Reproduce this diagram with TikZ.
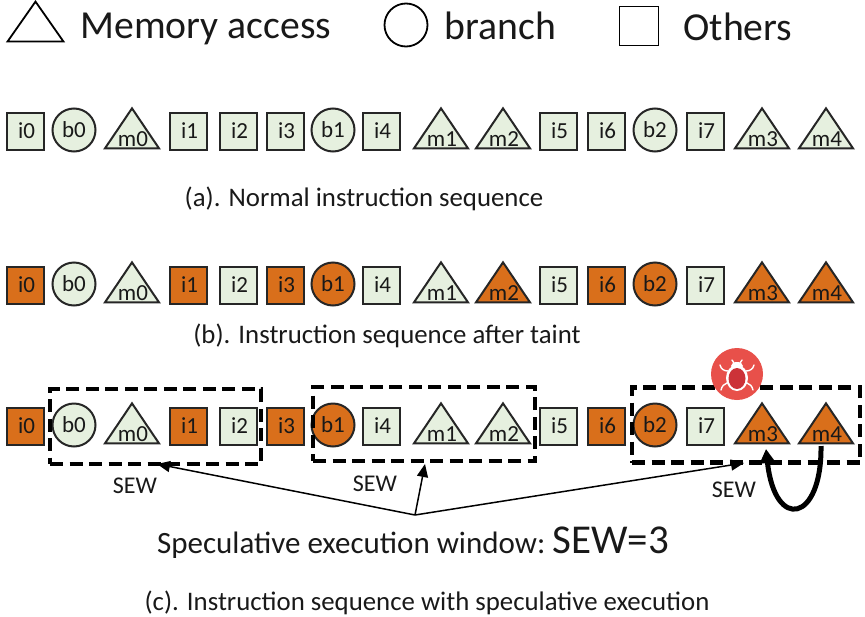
\documentclass[tikz,border=0pt]{standalone}
\usepackage{fontspec}
\setmainfont{Carlito}
\usetikzlibrary{shapes.geometric,arrows.meta}
\definecolor{lg}{HTML}{E6F0DF}
\definecolor{org}{HTML}{D96F1B}
\definecolor{bugred}{HTML}{E8504A}
\definecolor{bugdark}{HTML}{CC3238}
\tikzset{
  x=1pt,y=-1pt,
  every node/.style={font=\fontsize{23}{24}\selectfont,text=black!90},
  sq/.style={draw=black!85,line width=2pt,minimum width=37pt,minimum height=37pt,inner sep=0pt},
  ci/.style={draw=black!85,line width=2pt,circle,minimum size=43pt,inner sep=0pt},
  tr/.style={draw=black!85,line width=2pt,isosceles triangle,shape border rotate=90,isosceles triangle stretches,minimum width=54pt,minimum height=40pt,inner sep=0pt},
  nf/.style={fill=lg},
  of/.style={fill=org},
  win/.style={draw=black,line width=4.5pt,dash pattern=on 13pt off 6.5pt,inner sep=0pt},
  big/.style={font=\fontsize{39.7}{41}\selectfont},
  captxt/.style={font=\fontsize{26.8}{28}\selectfont},
  lab/.style={font=\fontsize{24}{26}\selectfont},
  arr/.style={-{Triangle[length=13pt,width=11pt]},line width=1.5pt,black},
}
\newcommand{\SQ}[5]{\node[sq,#5] (#1) at (#2,#3) {\hspace*{3pt}#4};}
\newcommand{\CI}[5]{\node[ci,#5] (#1) at (#2,#3-1) {#4};}
\newcommand{\TR}[5]{\node[tr,#5] (#1) at (#2,#3+3) {};\node (#1t) at (#2+1,#3+8) {#4};}
\begin{document}
\begin{tikzpicture}
\useasboundingbox (0,0) rectangle (865,616);
% legend
\node[draw=black,line width=1.8pt,isosceles triangle,shape border rotate=90,isosceles triangle stretches,minimum width=56pt,minimum height=40pt,inner sep=0pt] (lt) at (35.5,27) {};
\node[big,anchor=west] (lm) at (77,29) {Memory access};
\node[draw=black,line width=1.8pt,circle,minimum size=43pt,inner sep=0pt] (lc) at (406,25) {};
\node[big,anchor=west] (lb) at (441,26) {branch};
\node[draw=black,line width=1.8pt,minimum size=39pt,inner sep=0pt] (ls) at (639,26) {};
\node[big,anchor=west] (lo) at (680,27) {Others};
% row a
\def\ya{131}
\SQ{a0}{25}{\ya}{i0}{nf}\CI{a1}{74}{\ya}{b0}{nf}\TR{a2}{132}{\ya}{m0}{nf}
\SQ{a3}{188}{\ya}{i1}{nf}\SQ{a4}{238}{\ya}{i2}{nf}\SQ{a5}{285}{\ya}{i3}{nf}
\CI{a6}{333}{\ya}{b1}{nf}\SQ{a7}{381}{\ya}{i4}{nf}\TR{a8}{441}{\ya}{m1}{nf}
\TR{a9}{503}{\ya}{m2}{nf}\SQ{a10}{558}{\ya}{i5}{nf}\SQ{a11}{606}{\ya}{i6}{nf}
\CI{a12}{655}{\ya}{b2}{nf}\SQ{a13}{705}{\ya}{i7}{nf}\TR{a14}{762}{\ya}{m3}{nf}
\TR{a15}{826}{\ya}{m4}{nf}
\node[captxt] (ca) at (364,199) {(a). Normal instruction sequence};
% row b
\def\yb{285}
\SQ{b0}{25}{\yb}{i0}{of}\CI{b1}{74}{\yb}{b0}{nf}\TR{b2}{132}{\yb}{m0}{nf}
\SQ{b3}{188}{\yb}{i1}{of}\SQ{b4}{238}{\yb}{i2}{nf}\SQ{b5}{285}{\yb}{i3}{of}
\CI{b6}{333}{\yb}{b1}{of}\SQ{b7}{381}{\yb}{i4}{nf}\TR{b8}{441}{\yb}{m1}{nf}
\TR{b9}{503}{\yb}{m2}{of}\SQ{b10}{558}{\yb}{i5}{nf}\SQ{b11}{606}{\yb}{i6}{of}
\CI{b12}{655}{\yb}{b2}{of}\SQ{b13}{705}{\yb}{i7}{nf}\TR{b14}{762}{\yb}{m3}{of}
\TR{b15}{826}{\yb}{m4}{of}
\node[captxt] (cb) at (387,336) {(b). Instruction sequence after taint};
% row c
\def\yc{426}
\SQ{c0}{25}{\yc}{i0}{of}\CI{c1}{74}{\yc}{b0}{nf}\TR{c2}{132}{\yc}{m0}{nf}
\SQ{c3}{188}{\yc}{i1}{of}\SQ{c4}{238}{\yc}{i2}{nf}\SQ{c5}{285}{\yc}{i3}{of}
\CI{c6}{333}{\yc}{b1}{of}\SQ{c7}{381}{\yc}{i4}{nf}\TR{c8}{441}{\yc}{m1}{nf}
\TR{c9}{503}{\yc}{m2}{nf}\SQ{c10}{558}{\yc}{i5}{nf}\SQ{c11}{606}{\yc}{i6}{of}
\CI{c12}{655}{\yc}{b2}{of}\SQ{c13}{705}{\yc}{i7}{nf}\TR{c14}{762}{\yc}{m3}{of}
\TR{c15}{826}{\yc}{m4}{of}
% windows
\node[win,minimum width=211pt,minimum height=75pt] (w1) at (155.5,426.5) {};
\node[win,minimum width=222pt,minimum height=74pt] (w2) at (424,424) {};
\node[win,minimum width=228pt,minimum height=75pt] (w3) at (746,425) {};
% bug icon
\node[circle,fill=bugred,minimum size=52pt,inner sep=0pt] (bug) at (737,374) {};
\begin{scope}[shift={(737,374)}]
\fill[white] (0,-8) ellipse [x radius=6pt,y radius=4pt];
\fill[white] (0,4) ellipse [x radius=11pt,y radius=13pt];
\fill[bugdark] (0,4.5) ellipse [x radius=8.5pt,y radius=10.5pt];
\draw[white,line width=1.4pt,line cap=round] (-3,-11) -- (-5,-14) (3,-11) -- (5,-14)
  (-9,-3) .. controls (-13,-3) and (-16,-5) .. (-17,-9)
  (9,-3) .. controls (13,-3) and (16,-5) .. (17,-9)
  (-10,9) .. controls (-13,10) and (-15,12) .. (-16,16)
  (10,9) .. controls (13,10) and (15,12) .. (16,16);
\end{scope}
% labels
\node[lab] (s1) at (135,486) {SEW};
\node[lab] (s2) at (375,484) {SEW};
\node[lab] (s3) at (734,490) {SEW};
\node (sp) at (413,543) {\fontsize{31}{33}\selectfont Speculative execution window:\ \fontsize{41}{42}\selectfont SEW=3};
\coordinate (o) at (415,515);
\coordinate (e1) at (157,464);
\coordinate (e2) at (425,464);
\coordinate (e3) at (744,463);
\draw[arr] (o) -- (e1);
\draw[arr] (o) -- (e2);
\draw[arr] (o) -- (e3);
\node[captxt,inner sep=0pt] (cc) at (427,603) {(c). Instruction sequence with speculative execution};
% loop
\coordinate (l0) at (821,446);
\coordinate (l1) at (766,449);
\draw[-{Triangle[length=14pt,width=15pt]},line width=5pt,black] (l0) .. controls (822,522) and (775,532) .. (l1);
\end{tikzpicture}
\end{document}
